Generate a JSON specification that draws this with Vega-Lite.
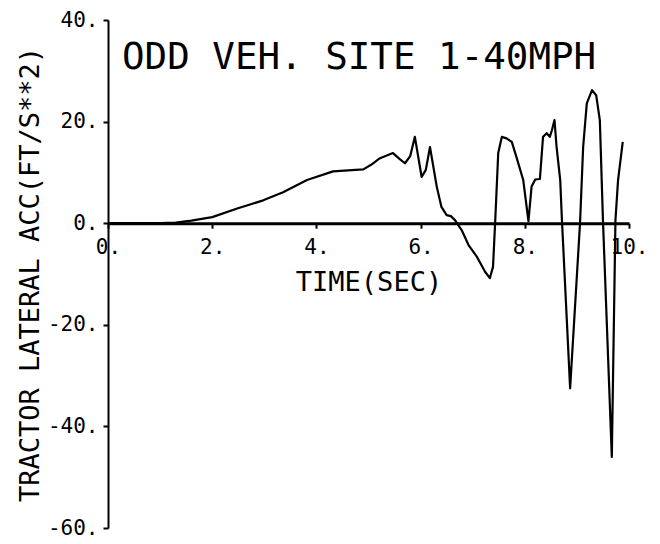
{
  "$schema": "https://vega.github.io/schema/vega-lite/v6.json",
  "width": 521,
  "height": 508,
  "autosize": {"type": "none"},
  "padding": {"left": 108, "top": 20, "right": 31, "bottom": 16},
  "background": "white",
  "title": {
    "text": "ODD VEH. SITE 1-40MPH",
    "anchor": "start",
    "frame": "group",
    "orient": "top",
    "offset": 0,
    "dx": 14,
    "dy": 97,
    "baseline": "alphabetic",
    "font": "DejaVu Sans Mono",
    "fontSize": 37.5,
    "fontWeight": "normal",
    "color": "black"
  },
  "config": {
    "view": {"stroke": null},
    "axis": {
      "domainColor": "black",
      "tickColor": "black",
      "labelColor": "black",
      "titleColor": "black",
      "labelFont": "DejaVu Sans Mono",
      "titleFont": "DejaVu Sans Mono",
      "titleFontSize": 27,
      "titleFontWeight": "normal",
      "grid": false,
      "labelFlush": false,
      "labelOverlap": false
    }
  },
  "data": {
    "values": [
      {"t": 0, "a": 0},
      {"t": 0.5, "a": 0},
      {"t": 1.0, "a": 0},
      {"t": 1.3, "a": 0.1},
      {"t": 1.6, "a": 0.5},
      {"t": 2.0, "a": 1.2},
      {"t": 2.48, "a": 2.9},
      {"t": 2.98, "a": 4.5},
      {"t": 3.36, "a": 6.1},
      {"t": 3.82, "a": 8.5},
      {"t": 4.32, "a": 10.2},
      {"t": 4.9, "a": 10.6},
      {"t": 5.05, "a": 11.5},
      {"t": 5.22, "a": 12.8},
      {"t": 5.47, "a": 13.8},
      {"t": 5.6, "a": 12.6},
      {"t": 5.7, "a": 11.8},
      {"t": 5.8, "a": 13.2},
      {"t": 5.89, "a": 17},
      {"t": 6.02, "a": 9.1},
      {"t": 6.1, "a": 10.5},
      {"t": 6.18, "a": 15},
      {"t": 6.31, "a": 7.2},
      {"t": 6.4, "a": 3.2},
      {"t": 6.5, "a": 1.6},
      {"t": 6.58, "a": 1.4},
      {"t": 6.66, "a": 0.6},
      {"t": 6.79, "a": -1.4},
      {"t": 6.92, "a": -4.3},
      {"t": 7.08, "a": -6.6},
      {"t": 7.24, "a": -9.6},
      {"t": 7.33, "a": -10.8},
      {"t": 7.39, "a": -8.6},
      {"t": 7.43, "a": 0},
      {"t": 7.49, "a": 13.8},
      {"t": 7.56, "a": 17},
      {"t": 7.65, "a": 16.7},
      {"t": 7.75, "a": 16},
      {"t": 7.84, "a": 13},
      {"t": 7.97, "a": 8.5},
      {"t": 8.07, "a": 0.4},
      {"t": 8.13, "a": 7.2},
      {"t": 8.2, "a": 8.6},
      {"t": 8.29, "a": 8.7},
      {"t": 8.35, "a": 17},
      {"t": 8.42, "a": 17.7},
      {"t": 8.48, "a": 17},
      {"t": 8.52, "a": 18.3},
      {"t": 8.57, "a": 20.3},
      {"t": 8.61, "a": 15},
      {"t": 8.68, "a": 8.5},
      {"t": 8.71, "a": 1.2},
      {"t": 8.87, "a": -32.5},
      {"t": 9.06, "a": 0},
      {"t": 9.12, "a": 15},
      {"t": 9.19, "a": 23.6},
      {"t": 9.29, "a": 26.2},
      {"t": 9.37, "a": 25.2},
      {"t": 9.44, "a": 20.3},
      {"t": 9.5, "a": 0.6},
      {"t": 9.67, "a": -46},
      {"t": 9.74, "a": 0.6},
      {"t": 9.79, "a": 8.5},
      {"t": 9.88, "a": 16}
    ]
  },
  "mark": {"type": "line", "color": "black", "strokeWidth": 2.2, "strokeJoin": "round"},
  "encoding": {
    "x": {
      "field": "t",
      "type": "quantitative",
      "scale": {"domain": [0, 10], "nice": false, "zero": false},
      "axis": {
        "title": "TIME(SEC)",
        "values": [0, 2, 4, 6, 8, 10],
        "labelExpr": "datum.value + '.'",
        "labelFontSize": 21,
        "offset": -304.8,
        "domainWidth": 3,
        "tickWidth": 2,
        "tickSize": 5,
        "labelPadding": 8,
        "titleY": 67,
        "titleBaseline": "alphabetic"
      }
    },
    "y": {
      "field": "a",
      "type": "quantitative",
      "scale": {"domain": [-60, 40], "nice": false, "zero": false},
      "axis": {
        "title": "TRACTOR LATERAL ACC(FT/S**2)",
        "values": [-60, -40, -20, 0, 20, 40],
        "labelExpr": "datum.value + '.'",
        "labelFontSize": 21,
        "domainWidth": 2,
        "tickWidth": 2,
        "tickSize": 5,
        "labelPadding": 5,
        "titleX": -70,
        "titleBaseline": "alphabetic"
      }
    }
  }
}
